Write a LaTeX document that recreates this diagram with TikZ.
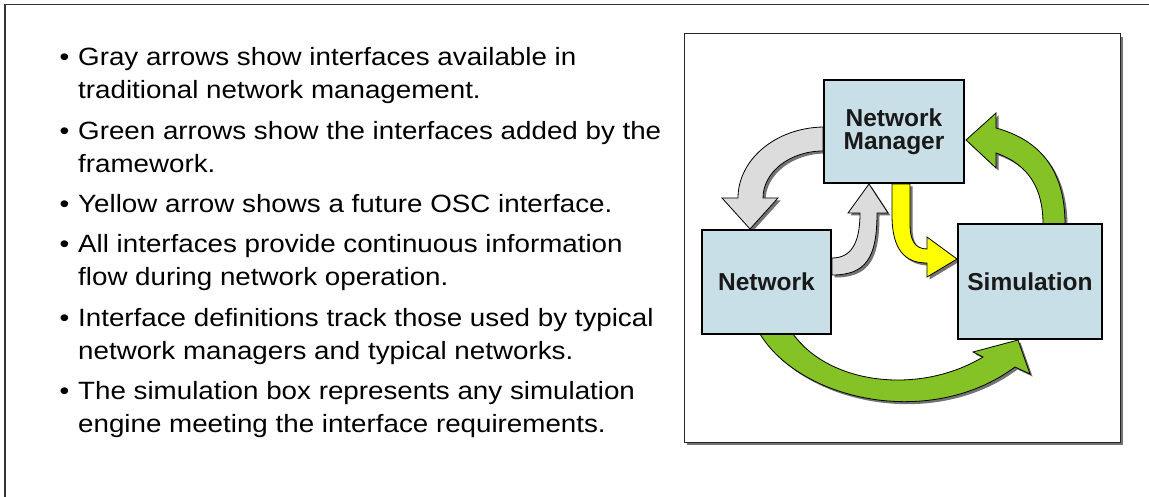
\documentclass[tikz,border=0pt]{standalone}
\usepackage{fontspec}
\setmainfont{Liberation Sans}
\newfontfamily\listfont[FakeStretch=1.11]{Liberation Sans}
\usetikzlibrary{shadows,backgrounds}

\definecolor{boxblue}{HTML}{C9DFE7}
\definecolor{flowgreen}{HTML}{84C225}
\definecolor{flowgray}{HTML}{DCDCDC}
\definecolor{flowyellow}{HTML}{FFFF00}

\begin{document}
\begin{tikzpicture}[x=1pt,y=-1pt,
    block/.style={draw=black, line width=2pt, fill=boxblue, inner sep=0pt,
      font=\fontsize{24.5}{23}\selectfont\bfseries, text=black!90, align=center},
    bigarrow/.style={draw=black, line width=0.8pt,
      drop shadow={shadow xshift=2.5pt, shadow yshift=-2.5pt, fill=black!55, opacity=1}},
    bulletmark/.style={font=\listfont\fontsize{25}{33}\selectfont, inner sep=0pt, anchor=base},
    itemtext/.style={font=\listfont\fontsize{25}{33}\selectfont, inner sep=0pt, anchor=base west, align=left},
  ]
  \useasboundingbox (0,0) rectangle (1149,497);

  % Outer frame
  \draw[line width=1.8pt, black!80] (1149,4.5) -- (5,4.5) -- (5,497);

  % Bullet list (text nodes sit on the baseline of their last line)
  \node[bulletmark] (b1) at (64.5,66)    {•};
  \node[itemtext]   (t1) at (78,99)      {Gray arrows show interfaces available in\\traditional network management.};
  \node[bulletmark] (b2) at (64.5,139.3) {•};
  \node[itemtext]   (t2) at (78,172.3)   {Green arrows show the interfaces added by the\\framework.};
  \node[bulletmark] (b3) at (64.5,212.6) {•};
  \node[itemtext]   (t3) at (78,212.6)   {Yellow arrow shows a future OSC interface.};
  \node[bulletmark] (b4) at (64.5,252.9) {•};
  \node[itemtext]   (t4) at (78,285.9)   {All interfaces provide continuous information\\flow during network operation.};
  \node[bulletmark] (b5) at (64.5,326.2) {•};
  \node[itemtext]   (t5) at (78,359.2)   {Interface definitions track those used by typical\\network managers and typical networks.};
  \node[bulletmark] (b6) at (64.5,399.5) {•};
  \node[itemtext]   (t6) at (78,432.5)   {The simulation box represents any simulation\\engine meeting the interface requirements.};

  % Boxes
  \node[block, minimum width=140pt, minimum height=103pt] (nm)  at (894,131.5)  {Network\\Manager};
  \node[block, minimum width=129pt, minimum height=104pt] (net) at (766.5,282)  {Network};
  \node[block, minimum width=144pt, minimum height=115pt] (sim) at (1030,281.5) {Simulation};

  \begin{scope}[on background layer]
    % Picture frame
    \draw[black!85, line width=1pt, fill=white,
      drop shadow={shadow xshift=3pt, shadow yshift=-3pt, fill=black!55, opacity=1}]
      (684,34) rectangle (1120,442);

    % Gray arrows
    \filldraw[bigarrow, fill=flowgray] (823,127) .. controls (775,128) and (738,160) .. (738,198)
      -- (722,198) -- (750,229) -- (778,198) -- (763,198)
      .. controls (763,172) and (790,151) .. (823,151) -- cycle;
    \filldraw[bigarrow, fill=flowgray] (832,275) .. controls (866,275) and (877,258) .. (877,213)
      -- (888,213) -- (869,184) -- (848,213) -- (860,213)
      .. controls (860,245) and (850,258) .. (832,258) -- cycle;

    % Yellow arrow
    \filldraw[bigarrow, fill=flowyellow] (892,184) -- (892,215)
      .. controls (892,250) and (905,263) .. (927,263)
      -- (927,277) -- (957,259) -- (927,237) -- (927,249)
      .. controls (915,249) and (910,240) .. (910,225) -- (910,184) -- cycle;

    % Green arrows
    \filldraw[bigarrow, fill=flowgreen] (1065,224) .. controls (1065,170) and (1040,140) .. (996,128)
      -- (996,113) -- (966,140) -- (996,168) -- (996,153)
      .. controls (1030,165) and (1043,190) .. (1043,224) -- cycle;
    \filldraw[bigarrow, fill=flowgreen] (760,334) .. controls (800,400) and (930,430) .. (1015,367)
      -- (1030,374) -- (1018,340) -- (973,352) -- (983,357)
      .. controls (920,395) and (830,385) .. (793,334) -- cycle;
  \end{scope}
\end{tikzpicture}
\end{document}
